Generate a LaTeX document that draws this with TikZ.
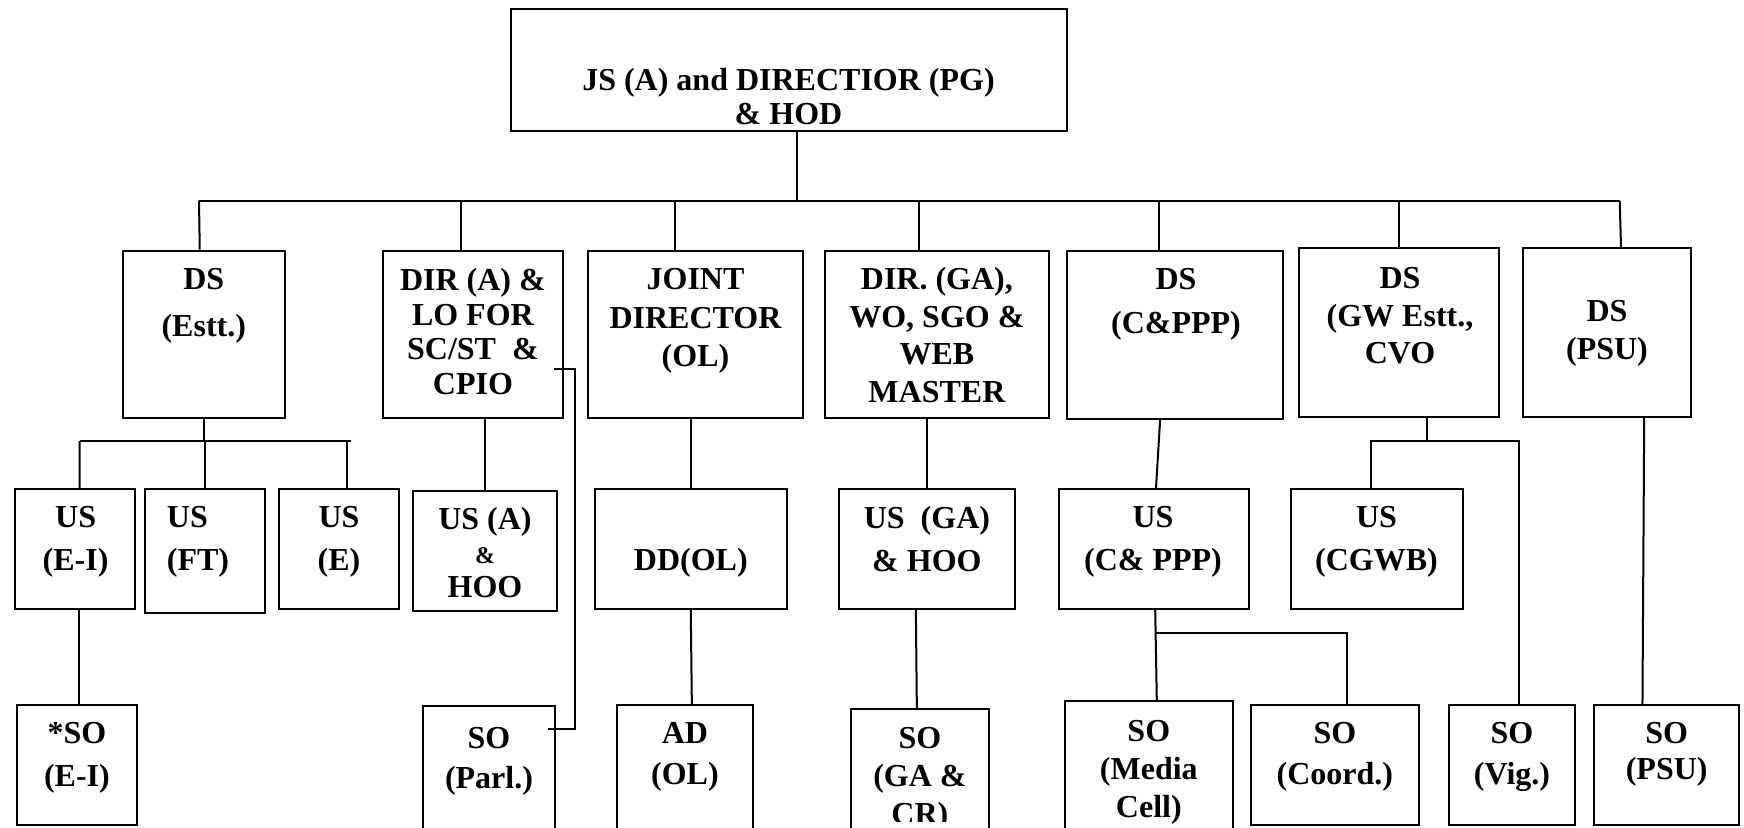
\documentclass[tikz,border=0pt]{standalone}
\usepackage{fontspec}
\setmainfont{Liberation Serif}
\usetikzlibrary{fit}

\tikzset{
  box/.style={draw=black, line width=1pt, inner sep=0pt},
  txt/.style={align=center, inner sep=0pt, anchor=north, font=\bfseries\fontsize{16}{#1}\selectfont},
  txt/.default=17.3,
  wire/.style={line width=1pt}
}

\begin{document}
\begin{tikzpicture}[x=0.5pt, y=-0.5pt]
  \useasboundingbox (0,0) rectangle (1744,827);
  \clip (0,0) rectangle (1744,827);

  % head
  \node[box, fit={(510.5,9) (1066.6,130.5)}] (jsa) {};
  \node[txt=17] (jsaT) at (788.5,68) {JS (A) and DIRECTIOR (PG)\\\& HOD};

  % second row
  \node[box, fit={(122.8,250.7) (284.7,418.3)}] (dsestt) {};
  \node[txt=23.5] (dsesttT) at (203.8,268) {DS\\(Estt.)};
  \node[box, fit={(382.7,250.7) (563,418.3)}] (dira) {};
  \node[txt] (diraT) at (472.9,268) {DIR (A) \&\\LO FOR\\SC/ST\ \ \&\\CPIO};
  \node[box, fit={(588.4,250.7) (802.7,418.3)}] (joint) {};
  \node[txt=19.25] (jointT) at (695.5,268) {JOINT\\DIRECTOR\\(OL)};
  \node[box, fit={(825,250.7) (1048.8,418.3)}] (dirga) {};
  \node[txt=18.8] (dirgaT) at (936.9,267) {DIR. (GA),\\WO, SGO \&\\WEB\\MASTER};
  \node[box, fit={(1066.8,250.7) (1282.6,419)}] (dscppp) {};
  \node[txt=22] (dscpppT) at (1176,268) {DS\\(C\&PPP)};
  \node[box, fit={(1298.9,248.3) (1498.5,416.7)}] (dsgw) {};
  \node[txt=18.75] (dsgwT) at (1400,267) {DS\\(GW Estt.,\\CVO};
  \node[box, fit={(1523,248.3) (1691,416.7)}] (dspsu) {};
  \node[txt=19] (dspsuT) at (1607,300) {DS\\(PSU)};

  % third row
  \node[box, fit={(14.5,489) (134.7,609)}] (usei) {};
  \node[txt=21.5] (useiT) at (75.6,506) {US\\(E-I)};
  \node[box, fit={(144.7,489) (264.8,612.7)}] (usft) {};
  \node[txt=21.5, anchor=north west, align=left] (usftT) at (166.5,506) {US\\(FT)};
  \node[box, fit={(279,489) (399,609)}] (usest) {};
  \node[txt=21.5] (usestT) at (339,506) {US\\(E)};
  \node[box, fit={(413,491) (556.8,611)}] (usa) {};
  \node[txt=17] (usaT) at (485,507) {US (A)\\{\fontsize{12}{12}\selectfont\&}\\HOO};
  \node[box, fit={(594.5,489) (787,609)}] (ddol) {};
  \node[txt] (ddolT) at (690.8,548) {DD(OL)};
  \node[box, fit={(838.7,489) (1015,609)}] (usga) {};
  \node[txt=21.5] (usgaT) at (926.9,506) {US\ \ (GA)\\\& HOO};
  \node[box, fit={(1058.8,489) (1249.2,609)}] (uscppp) {};
  \node[txt=21.5] (uscpppT) at (1153,506) {US\\(C\& PPP)};
  \node[box, fit={(1290.9,489) (1462.9,609)}] (uscgwb) {};
  \node[txt=21.5] (uscgwbT) at (1376.5,506) {US\\(CGWB)};

  % bottom row
  \node[box, fit={(16.8,705) (137,825)}] (soei) {};
  \node[txt=21.5] (soeiT) at (76.9,722) {*SO\\(E-I)};
  \node[box, fit={(423,706) (555,880)}] (soparl) {};
  \node[txt=20] (soparlT) at (489,727) {SO\\(Parl.)};
  \node[box, fit={(616.7,705) (753,880)}] (adol) {};
  \node[txt=20.5] (adolT) at (684.9,722) {AD\\(OL)};
  \node[box, fit={(851,709) (988.7,880)}] (sogacr) {};
  \begin{scope}
    \clip (851,700) rectangle (989,821);
    \node[txt=19] (sogacrT) at (919.9,727) {SO\\(GA \&\\CR)};
  \end{scope}
  \node[box, fit={(1065,701) (1232.6,880)}] (somedia) {};
  \node[txt=19] (somediaT) at (1148.8,720) {SO\\(Media\\Cell)};
  \node[box, fit={(1250.8,705) (1418.9,825)}] (socoord) {};
  \node[txt=20.5] (socoordT) at (1334.9,722) {SO\\(Coord.)};
  \node[box, fit={(1449.2,705) (1575,825)}] (sovig) {};
  \node[txt=20.5] (sovigT) at (1512,722) {SO\\(Vig.)};
  \node[box, fit={(1594.3,705) (1739,825)}] (sopsu) {};
  \node[txt=18] (sopsuT) at (1666.7,722) {SO\\(PSU)};

  % head to second row
  \coordinate (topbusL) at (199,200.7);
  \coordinate (topbusR) at (1619.7,200.7);
  \draw[wire] ([xshift=4.25pt]jsa.south) -- ([xshift=4.25pt]jsa.south |- topbusL);
  \draw[wire] (topbusL) -- (topbusR);
  \draw[wire] ([xshift=-2pt]dsestt.north) -- (topbusL);
  \draw[wire] ([xshift=-6pt]dira.north) -- ([xshift=-6pt]dira.north |- topbusL);
  \draw[wire] ([xshift=-10.25pt]joint.north) -- ([xshift=-10.25pt]joint.north |- topbusL);
  \draw[wire] ([xshift=-9pt]dirga.north) -- ([xshift=-9pt]dirga.north |- topbusL);
  \draw[wire] ([xshift=-8pt]dscppp.north) -- ([xshift=-8pt]dscppp.north |- topbusL);
  \draw[wire] (dsgw.north) -- (dsgw.north |- topbusL);
  \draw[wire] ([xshift=7pt]dspsu.north) -- (topbusR);

  % DS (Estt.)
  \coordinate (estbusL) at (79.6,441);
  \coordinate (estbusR) at (351.3,441);
  \draw[wire] (dsestt.south) -- (dsestt.south |- estbusL);
  \draw[wire] (estbusL) -- (estbusR);
  \draw[wire] ([xshift=2.5pt]usei.north) -- (estbusL);
  \draw[wire] (usft.north) -- (usft.north |- estbusL);
  \draw[wire] ([xshift=4pt]usest.north) -- ([xshift=4pt]usest.north |- estbusL);
  \draw[wire] ([xshift=2.3pt]usei.south) -- ([xshift=2.3pt]usei.south |- soei.north);

  % DIR (A)
  \draw[wire] (usa.north) -- (usa.north |- dira.south);
  \draw[wire] ([xshift=-5pt,yshift=-17pt]dira.east) -- ++(10.5pt,0) |- ([xshift=-4pt,yshift=32pt]soparl.east);

  % JOINT DIRECTOR
  \draw[wire] (ddol.north) -- (ddol.north |- joint.south);
  \draw[wire] (ddol.south) -- ([xshift=3.5pt]adol.north);

  % DIR. (GA)
  \draw[wire] (usga.north) -- (usga.north |- dirga.south);
  \draw[wire] ([xshift=-5.5pt]usga.south) -- ([xshift=-1.5pt]sogacr.north);

  % DS (C&PPP)
  \draw[wire] ([xshift=1pt]uscppp.north) -- ([xshift=-7.3pt]dscppp.south);
  \draw[wire] ([xshift=0.6pt]uscppp.south) -- ([xshift=4pt]somedia.north);
  \draw[wire] ([xshift=0.6pt,yshift=-11.65pt]uscppp.south) -| ([xshift=6.3pt]socoord.north);

  % DS (GW Estt., CVO)
  \coordinate (gwbusL) at (1370.9,441);
  \draw[wire] ([xshift=14pt]dsgw.south) -- ([xshift=14pt]dsgw.south |- gwbusL);
  \draw[wire] ([xshift=-3pt]uscgwb.north) -- (gwbusL) -| ([xshift=3.3pt]sovig.north);

  % DS (PSU)
  \draw[wire] ([xshift=18.6pt]dspsu.south) -- ([xshift=-12.1pt]sopsu.north);
\end{tikzpicture}
\end{document}
